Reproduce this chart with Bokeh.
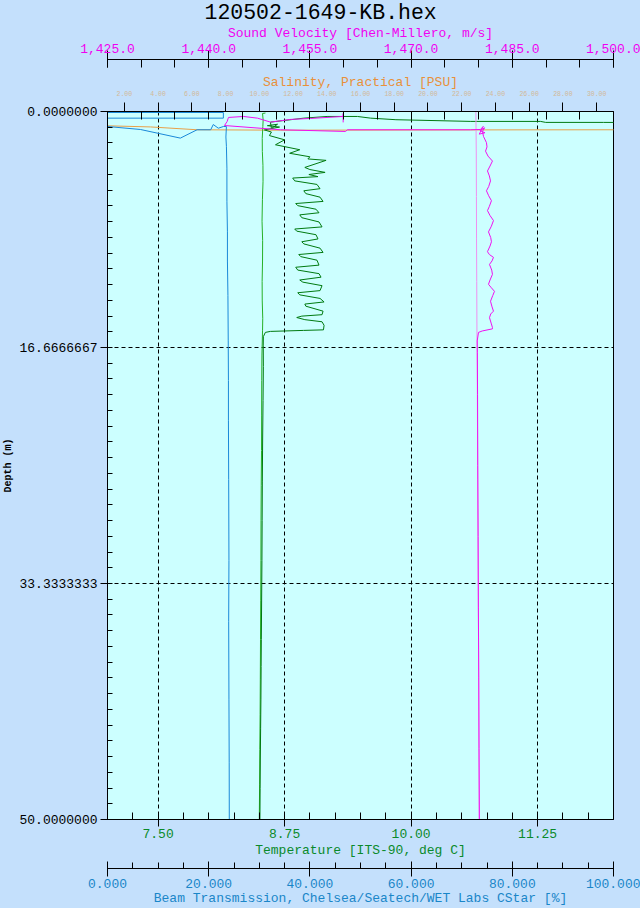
from bokeh.plotting import figure
from bokeh.models import (Range1d, LinearAxis, FixedTicker, NumeralTickFormatter, Title,
                          GlobalInlineStyleSheet, BoxAnnotation)
from bokeh.embed import file_html
from bokeh.resources import INLINE

# ---------------- data ----------------
title_text = "120502-1649-KB.hex"

# temperature, first pass (light green): depth [m], temperature [deg C]
temp_a_depth = [0.11, 0.14, 0.6, 1.06, 1.9, 2.82, 3.8, 4.93, 6.2, 7.75, 9.1, 10.56, 12.0, 13.38, 14.6,
                15.49, 17.2, 19.01, 21.5, 23.94, 26.4, 28.87, 31.7, 34.51, 37.3, 40.14, 42.6, 45.07, 47.5, 50.0]
temp_a = [8.561, 8.532, 8.538, 8.535, 8.529, 8.530, 8.536, 8.537, 8.531, 8.527, 8.533, 8.532, 8.528, 8.529, 8.534,
          8.532, 8.526, 8.524, 8.523, 8.522, 8.519, 8.517, 8.516, 8.514, 8.512, 8.510, 8.508, 8.505, 8.503, 8.500]

# temperature, second pass (dark green): (temperature, depth)
temp_b_points = [
    (8.506, 50.0), (8.508, 47.8), (8.510, 45.8), (8.513, 43.6), (8.516, 41.5), (8.518, 39.2), (8.520, 37.3),
    (8.523, 34.5), (8.526, 31.7), (8.528, 28.9), (8.530, 26.1), (8.533, 23.2), (8.537, 20.4), (8.540, 18.0),
    (8.539, 16.5), (8.540, 15.9), (8.560, 15.6), (8.610, 15.53), (8.937, 15.46), (9.134, 15.42),
    (9.14, 15.1), (9.12, 14.85), (8.95, 14.7), (8.87, 14.55), (8.92, 14.45), (9.12, 14.35), (9.13, 14.1),
    (8.96, 13.75), (8.95, 13.6), (9.14, 13.45), (9.10, 13.2), (8.90, 12.95), (8.88, 12.8), (9.10, 12.65),
    (9.12, 12.3), (8.93, 12.05), (8.90, 11.9), (9.11, 11.7), (9.09, 11.45), (8.88, 11.2), (8.86, 11.0),
    (9.09, 10.85), (9.07, 10.5), (8.91, 10.25), (8.89, 10.1), (9.13, 9.95), (9.10, 9.65), (8.94, 9.35),
    (8.92, 9.2), (9.08, 9.0), (9.06, 8.7), (8.87, 8.45), (8.85, 8.3), (9.12, 8.15), (9.09, 7.8),
    (8.92, 7.5), (8.90, 7.3), (9.09, 7.15), (9.06, 6.9), (8.88, 6.65), (8.86, 6.5), (9.13, 6.35),
    (9.10, 6.05), (8.96, 5.8), (8.94, 5.6), (9.10, 5.45), (9.07, 5.15), (8.85, 4.9), (8.83, 4.7),
    (9.08, 4.6), (8.99, 4.45), (9.15, 4.3), (9.00, 4.1), (8.95, 3.95), (9.16, 3.45), (8.98, 3.35),
    (9.00, 3.2), (8.80, 2.95), (8.90, 2.7), (8.66, 2.35), (8.75, 2.0), (8.60, 1.7), (8.62, 1.45),
    (8.55, 1.3), (8.70, 1.1), (8.58, 1.0), (8.68, 0.9), (8.62, 1.2), (8.61, 0.75), (8.94, 0.47),
    (9.17, 0.35), (9.47, 0.35), (9.60, 0.47), (9.85, 0.58), (10.59, 0.70), (11.28, 0.70), (11.33, 0.77),
    (11.90, 0.77), (12.30, 0.78)]
temp_b = [t for t, d in temp_b_points]
temp_b_depth = [d for t, d in temp_b_points]

# sound velocity, first pass (light pink): depth [m], velocity [m/s]
sv_a_depth = [0.0, 1.3, 3.0, 6.0, 9.0, 12.0, 15.5, 18.0, 22.0, 26.0, 30.0, 34.0, 38.0, 42.0, 46.0, 50.0]
sv_a = [1479.60, 1479.63, 1479.66, 1479.68, 1479.70, 1479.73, 1479.76, 1479.80, 1479.84, 1479.88,
        1479.92, 1479.96, 1480.00, 1480.03, 1480.06, 1480.09]

# sound velocity, second pass (magenta): (velocity, depth)
sv_b_points = [
    (1480.12, 50.0), (1480.07, 45.0), (1480.03, 40.0), (1479.97, 35.0), (1479.93, 30.0), (1479.88, 25.0),
    (1479.85, 20.0), (1479.82, 17.0), (1479.80, 16.2), (1479.99, 15.6), (1480.54, 15.5), (1482.06, 15.35),
    (1482.06, 15.26), (1481.90, 15.0), (1481.62, 14.56), (1481.80, 14.3), (1482.21, 14.1), (1482.00, 13.8),
    (1481.77, 13.4), (1482.10, 13.0), (1482.36, 12.7), (1481.90, 12.45), (1481.47, 12.2), (1481.70, 11.9),
    (1482.06, 11.5), (1481.95, 11.2), (1481.62, 10.8), (1482.00, 10.55), (1482.21, 10.3), (1481.60, 10.1),
    (1481.32, 9.9), (1481.70, 9.5), (1481.91, 9.2), (1481.80, 8.9), (1481.47, 8.5), (1481.90, 8.1),
    (1482.21, 7.7), (1481.70, 7.35), (1481.32, 7.0), (1481.60, 6.7), (1481.91, 6.3), (1481.50, 5.95),
    (1481.17, 5.6), (1481.50, 5.3), (1481.77, 4.9), (1481.60, 4.55), (1481.32, 4.2), (1481.70, 3.85),
    (1482.06, 3.5), (1481.40, 3.15), (1481.03, 2.8), (1481.25, 2.5), (1481.17, 2.2), (1480.73, 1.76),
    (1480.58, 1.4), (1480.90, 1.15), (1480.20, 1.35), (1480.95, 1.5), (1480.10, 1.6), (1480.70, 1.05),
    (1480.28, 1.27), (1478.80, 1.29), (1460.57, 1.29), (1460.28, 1.41), (1450.64, 1.29), (1442.34, 0.99),
    (1442.74, 0.70), (1442.93, 0.42), (1445.16, 0.35), (1447.23, 0.47), (1449.16, 0.75), (1452.12, 0.56),
    (1455.09, 0.49), (1459.93, 0.35), (1459.93, 0.14), (1459.93, 0.77)]
sv_b = [v for v, d in sv_b_points]
sv_b_depth = [d for v, d in sv_b_points]

# beam transmission (blue): depth [m], transmission [%]
beam_depth = [0.07, 0.07, 0.47, 0.47, 1.06, 1.27, 1.88, 1.29, 1.29, 0.92, 1.18, 1.06, 1.06, 1.8, 2.46,
              4.0, 6.34, 8.5, 10.56, 13.0, 16.2, 19.0, 21.8, 26.0, 31.7, 36.0, 41.5, 46.0, 50.0]
beam = [0.0, 22.9, 22.9, 0.0, 0.0, 6.5, 14.4, 17.7, 20.4, 20.9, 21.9, 22.9, 23.5, 23.4, 23.5,
        23.6, 23.6, 23.7, 23.7, 23.8, 23.86, 23.9, 23.9, 23.95, 24.0, 23.95, 24.0, 24.05, 24.07]

# salinity (orange): depth [m], salinity [PSU]
sal_depth = [1.01, 1.09, 1.29, 1.32, 1.30, 1.29, 1.35, 3.0, 10.0, 20.0, 35.0, 50.0]
sal = [1.0, 3.55, 6.32, 11.25, 22.5, 31.0, 31.6, 31.75, 31.85, 31.95, 32.05, 32.1]

# axes
temp_ticks = [7.5, 8.75, 10.0, 11.25]
temp_minor = [7.0 + 0.25 * i for i in range(21)]
depth_ticks = [0.0, 16.6666667, 33.3333333, 50.0]
depth_minor = [50.0 * i / 45 for i in range(46)]
sv_ticks = [1425, 1440, 1455, 1470, 1485, 1500]
sv_minor = [1425 + 5 * i for i in range(16)]
sal_ticks = [2, 4, 6, 8, 10, 12, 14, 16, 18, 20, 22, 24, 26, 28, 30]
sal_minor = [1 + 2 * i for i in range(16)]
beam_ticks = [0, 20, 40, 60, 80, 100]
beam_minor = [5 * i for i in range(21)]

FONT = "Liberation Mono"
PAGE_BG = "#c4e0fc"

p = figure(width=640, height=908, output_backend="svg", toolbar_location=None, tools="",
           x_range=Range1d(7, 12), y_range=Range1d(50, 0), title=None,
           min_border_left=107, min_border_right=27, min_border_top=0, min_border_bottom=0)
p.extra_x_ranges = {"sv": Range1d(1425, 1500), "sal": Range1d(1, 31), "beam": Range1d(0, 100)}
p.background_fill_color = "#ccffff"
p.border_fill_color = PAGE_BG
p.outline_line_color = "black"
p.outline_line_width = 1
p.stylesheets = [GlobalInlineStyleSheet(css="html, body { background-color: %s; }" % PAGE_BG)]


def style(ax, label_color, title_color, label_size="13px", title_size="13px"):
    ax.axis_line_color = "black"
    ax.major_tick_line_color = "black"
    ax.minor_tick_line_color = "black"
    ax.major_label_text_font = FONT
    ax.major_label_text_font_size = label_size
    ax.major_label_text_color = label_color
    ax.axis_label_text_font = FONT
    ax.axis_label_text_font_size = title_size
    ax.axis_label_text_font_style = "normal"
    ax.axis_label_text_color = title_color


def spacer(font_size):
    # an empty title that only reserves room between two axes
    return Title(text=" ", text_font=FONT, text_font_size=font_size, standoff=0)


# drop shadow of the frame (right and bottom edges), just outside the ranges
for left, right, top, bottom in ((12.01, 12.05, 0.35, 50.35), (7.05, 12.05, 50.02, 50.35)):
    p.add_layout(BoxAnnotation(left=left, right=right, top=top, bottom=bottom, fill_color="#808080",
                               fill_alpha=1.0, line_color=None, level="underlay"))

# temperature axis (bottom, nearest)
tx = p.xaxis[0]
tx.ticker = FixedTicker(ticks=temp_ticks, minor_ticks=temp_minor)
tx.formatter = NumeralTickFormatter(format="0.00")
tx.axis_label = "Temperature [ITS-90, deg C]"
style(tx, "#0a8a2a", "#0a8a2a")
tx.major_tick_out, tx.major_tick_in, tx.minor_tick_in, tx.minor_tick_out = 7, 0, 7, 0
tx.major_label_standoff = 2
tx.axis_label_standoff = 2

# depth axis
dy = p.yaxis[0]
dy.ticker = FixedTicker(ticks=depth_ticks, minor_ticks=depth_minor)
dy.formatter = NumeralTickFormatter(format="0.0000000")
dy.axis_label = "Depth (m)"
style(dy, "black", "black", title_size="10px")
dy.axis_label_text_font_style = "bold"
dy.major_tick_out, dy.major_tick_in, dy.minor_tick_in, dy.minor_tick_out = 7, 0, 5, 0
dy.major_label_standoff = 3
dy.axis_label_standoff = 2

# grids
p.xgrid.ticker = FixedTicker(ticks=temp_ticks)
p.ygrid.ticker = FixedTicker(ticks=depth_ticks)
for g in (p.xgrid, p.ygrid):
    g.grid_line_color = "black"
    g.grid_line_dash = "4 3"
    g.grid_line_width = 1

# salinity axis (above, nearest)
sx = LinearAxis(x_range_name="sal", ticker=FixedTicker(ticks=sal_ticks, minor_ticks=sal_minor),
                formatter=NumeralTickFormatter(format="0.00"), axis_label="Salinity, Practical [PSU]")
style(sx, "#d2b898", "#e8903a", label_size="6.5px")
sx.major_tick_out, sx.major_tick_in, sx.minor_tick_in, sx.minor_tick_out = 9, 0, 8, 0
sx.major_label_standoff = 7
sx.axis_label_standoff = -2
p.add_layout(sx, "above")
p.add_layout(spacer("8.5px"), "above")

# sound velocity axis
vx = LinearAxis(x_range_name="sv", ticker=FixedTicker(ticks=sv_ticks, minor_ticks=sv_minor),
                formatter=NumeralTickFormatter(format="0,0.0"),
                axis_label="Sound Velocity [Chen-Millero, m/s]")
style(vx, "#f000f0", "#f000f0")
vx.major_tick_out, vx.major_tick_in, vx.minor_tick_in, vx.minor_tick_out = 9, 8, 8, 0
vx.major_label_standoff = -2
vx.axis_label_standoff = 0
p.add_layout(vx, "above")

p.add_layout(Title(text=title_text, align="left", offset=97, text_font=FONT, text_font_size="21.5px",
                   text_font_style="normal", text_color="black", standoff=-4), "above")

# beam axis (bottom, outer)
p.add_layout(spacer("5px"), "below")
bx = LinearAxis(x_range_name="beam", ticker=FixedTicker(ticks=beam_ticks, minor_ticks=beam_minor),
                formatter=NumeralTickFormatter(format="0.000"),
                axis_label="Beam Transmission, Chelsea/Seatech/WET Labs CStar [%]")
style(bx, "#1a86c8", "#1a86c8")
bx.major_tick_out, bx.major_tick_in, bx.minor_tick_in, bx.minor_tick_out = 8, 7, 6, 0
bx.major_label_standoff = 2
bx.axis_label_standoff = 0
p.add_layout(bx, "below")

# data lines
p.line(sal, sal_depth, x_range_name="sal", line_color="#e8a048", line_width=1)
p.line(beam, beam_depth, x_range_name="beam", line_color="#1a88d8", line_width=1)
p.line(temp_a, temp_a_depth, line_color="#28b028", line_width=1)
p.line(temp_b, temp_b_depth, line_color="#007a10", line_width=1)
p.line(sv_a, sv_a_depth, x_range_name="sv", line_color="#f090f0", line_width=1)
p.line(sv_b, sv_b_depth, x_range_name="sv", line_color="#f010f0", line_width=1)

open("out.html", "w").write(file_html(p, INLINE))
